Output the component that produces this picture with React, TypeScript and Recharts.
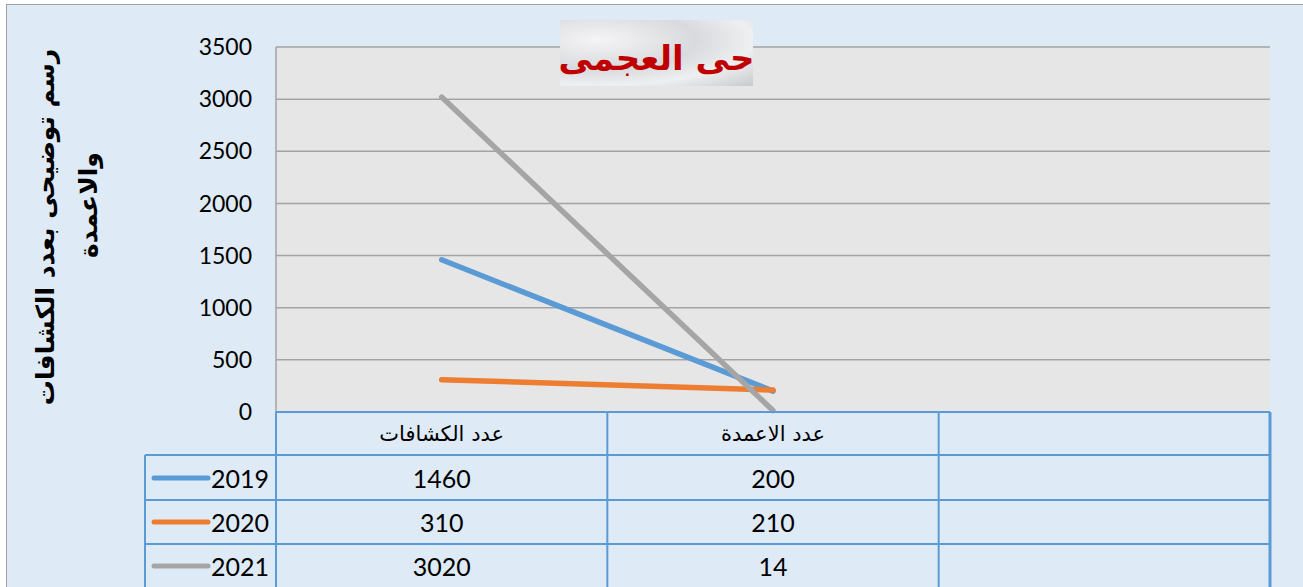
import React from 'react';
import {
  LineChart,
  Line,
  XAxis,
  YAxis,
  CartesianGrid,
} from 'recharts';

// categories on the x axis (third column is empty in the source sheet)
const categories = ['عدد الكشافات', 'عدد الاعمدة', ''];
const years = ['2019', '2020', '2021'];
const values2019 = [1460, 200, null];
const values2020 = [310, 210, null];
const values2021 = [3020, 14, null];
const yTicks = [0, 500, 1000, 1500, 2000, 2500, 3000, 3500];

const title = 'حى العجمى';
const axisTitleLines = ['رسم توضيحى بعدد الكشافات', 'والاعمدة'];

const COLORS = ['#5B9BD5', '#ED7D31', '#A5A5A5'];
const TABLE_BLUE = '#5B9BD5';
const NUM_FONT = 'Lato, "Open Sans", sans-serif';
const AR_FONT = '"DejaVu Sans", sans-serif';

const W = 1303;
const H = 587;
const M = { top: 47, right: 33, left: 0, bottom: 0 };
const Y_AXIS_W = 276;
const TABLE_H = 175;
const ROW_H = 44;
const LEGEND_COL_W = 131;

const seriesValues = [values2019, values2020, values2021];
const data = categories.map((name, i) => ({
  name: name || ' ',
  y2019: values2019[i],
  y2020: values2020[i],
  y2021: values2021[i],
}));

const plotW = W - M.left - M.right - Y_AXIS_W;
const half = plotW / categories.length / 2;

// draws the data table column for one category, under the plot
function TableTick(props: any) {
  const { x, y, index } = props;
  const top = y;
  const left = x - half;
  const right = x + half;
  const isFirst = index === 0;
  const isLast = index === categories.length - 1;
  const rowLeft = isFirst ? left - LEGEND_COL_W : left;
  const lines: React.ReactNode[] = [];

  // horizontal borders
  lines.push(<line key="h0" x1={left} x2={right} y1={top} y2={top} stroke={TABLE_BLUE} strokeWidth={2} />);
  for (let r = 1; r <= 4; r++) {
    const yy = top + ROW_H * r - (r === 1 ? 1 : 0);
    lines.push(<line key={'h' + r} x1={rowLeft} x2={right} y1={yy} y2={yy} stroke={TABLE_BLUE} strokeWidth={2} />);
  }
  // vertical borders
  lines.push(<line key="vl" x1={left} x2={left} y1={top} y2={top + TABLE_H} stroke={TABLE_BLUE} strokeWidth={2} />);
  if (isLast) {
    lines.push(<line key="vr" x1={right} x2={right} y1={top} y2={top + TABLE_H} stroke={TABLE_BLUE} strokeWidth={3} />);
  }
  if (isFirst) {
    lines.push(<line key="vleg" x1={rowLeft} x2={rowLeft} y1={top + ROW_H - 1} y2={top + TABLE_H} stroke={TABLE_BLUE} strokeWidth={2} />);
  }

  return (
    <g>
      {lines}
      <text
        x={x}
        y={top + 22}
        textAnchor="middle"
        dominantBaseline="central"
        fontFamily={AR_FONT}
        fontSize={21}
        fill="#000"
        direction="rtl"
      >
        {categories[index]}
      </text>
      {seriesValues.map((vals, r) => (
        <text
          key={'v' + r}
          x={x}
          y={top + ROW_H * (r + 1) + 22}
          textAnchor="middle"
          dominantBaseline="central"
          fontFamily={NUM_FONT}
          fontSize={25}
          fill="#000"
        >
          {vals[index] == null ? '' : vals[index]}
        </text>
      ))}
      {isFirst &&
        years.map((yr, r) => (
          <g key={'leg' + r}>
            <line
              x1={rowLeft + 9}
              x2={rowLeft + 63}
              y1={top + ROW_H * (r + 1) + 22}
              y2={top + ROW_H * (r + 1) + 22}
              stroke={COLORS[r]}
              strokeWidth={5}
              strokeLinecap="round"
            />
            <text
              x={left - 7}
              y={top + ROW_H * (r + 1) + 22}
              textAnchor="end"
              dominantBaseline="central"
              fontFamily={NUM_FONT}
              fontSize={25}
              fill="#000"
            >
              {yr}
            </text>
          </g>
        ))}
    </g>
  );
}

export default function App() {
  return (
    <div style={{ position: 'absolute', left: 0, top: 0, width: W, height: H, overflow: 'hidden', background: '#fff' }}>
      <div
        style={{
          position: 'absolute',
          left: 6,
          top: 4,
          width: W,
          height: H,
          background: '#DEEAF6',
          borderTop: '1.5px solid #A0A0A0',
          borderLeft: '1.5px solid #A0A0A0',
        }}
      />
      <div style={{ position: 'absolute', left: 0, top: 0 }}>
        <LineChart width={W} height={H} data={data} margin={M}>
          <CartesianGrid vertical={false} stroke="#A3A3A3" strokeWidth={1.5} fill="#E6E6E6" fillOpacity={1} />
          <XAxis
            dataKey="name"
            height={TABLE_H}
            padding={{ left: half, right: half }}
            axisLine={false}
            tickLine={false}
            tickSize={0}
            tickMargin={0}
            interval={0}
            tick={<TableTick />}
          />
          <YAxis
            width={Y_AXIS_W}
            domain={[0, 3500]}
            ticks={yTicks}
            interval={0}
            axisLine={{ stroke: '#A3A3A3', strokeWidth: 1.5 }}
            tickLine={false}
            tickMargin={18}
            tick={{ fill: '#000', fontFamily: NUM_FONT, fontSize: 23 }}
          />
          <Line dataKey="y2019" stroke={COLORS[0]} strokeWidth={5.5} strokeLinecap="round" dot={false} isAnimationActive={false} />
          <Line dataKey="y2020" stroke={COLORS[1]} strokeWidth={5.5} strokeLinecap="round" dot={false} isAnimationActive={false} />
          <Line dataKey="y2021" stroke={COLORS[2]} strokeWidth={5.5} strokeLinecap="round" dot={false} isAnimationActive={false} />
        </LineChart>
      </div>
      {/* y axis title */}
      <svg style={{ position: 'absolute', left: 0, top: 0, pointerEvents: 'none' }} width={140} height={H}>
        <text
          transform="rotate(-90 45 227)"
          x={45}
          y={227}
          textAnchor="middle"
          dominantBaseline="central"
          fontFamily={AR_FONT}
          fontWeight="bold"
          fontSize={25}
          direction="rtl"
          fill="#000"
        >
          {axisTitleLines[0]}
        </text>
        <text
          transform="rotate(-90 88 205)"
          x={88}
          y={205}
          textAnchor="middle"
          dominantBaseline="central"
          fontFamily={AR_FONT}
          fontWeight="bold"
          fontSize={25}
          direction="rtl"
          fill="#000"
        >
          {axisTitleLines[1]}
        </text>
      </svg>
      {/* chart title on a marble-like box */}
      <div
        style={{
          position: 'absolute',
          left: 560,
          top: 20,
          width: 193,
          height: 66,
          boxSizing: 'border-box',
          paddingTop: 10,
          background:
            'radial-gradient(ellipse at 20% 30%, #f4f4f6 0%, #d9dadd 45%, #eeeff1 70%, #c9cacc 100%)',
          display: 'flex',
          alignItems: 'center',
          justifyContent: 'center',
          whiteSpace: 'nowrap',
          direction: 'rtl',
          fontFamily: AR_FONT,
          fontWeight: 'bold',
          fontSize: 34,
          color: '#C00000',
        }}
      >
        {title}
      </div>
    </div>
  );
}
